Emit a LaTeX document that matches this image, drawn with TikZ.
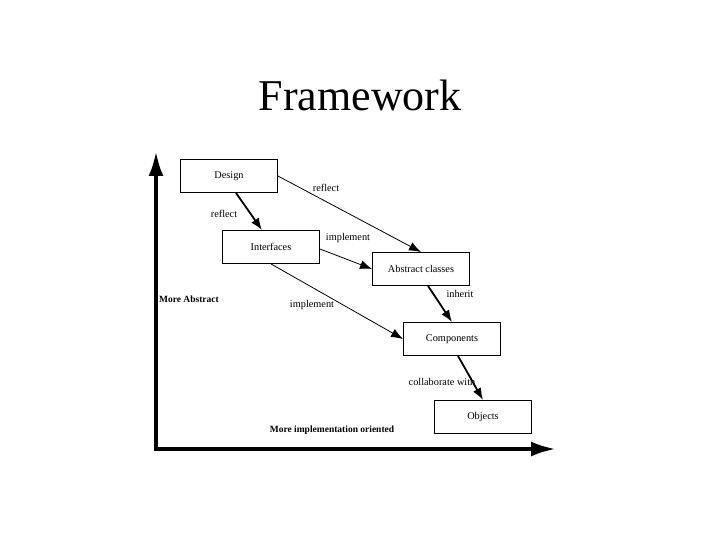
\documentclass[tikz,border=0pt]{standalone}
\usepackage{fontspec}
\setmainfont{Liberation Serif}
\usetikzlibrary{arrows.meta, positioning}

\begin{document}
\begin{tikzpicture}[
    x=1pt, y=-1pt,
    box/.style={rectangle, draw, line width=0.9pt, minimum width=97pt, minimum height=33pt, inner sep=0pt, font=\fontsize{10.3}{12}\selectfont},
    thin arrow/.style={-{Latex[length=12pt, width=9pt]}, line width=0.8pt},
    thick arrow/.style={-{Latex[length=12pt, width=9pt]}, line width=1.8pt},
    axis/.style={-{Latex[length=25pt, width=15pt]}, line width=4pt},
    label/.style={font=\fontsize{10.3}{12}\selectfont, inner sep=1pt},
    axis label/.style={font=\fontsize{9.5}{11}\selectfont\bfseries, inner sep=1pt}
]
    \useasboundingbox (0,0) rectangle (720,540);

    % Title
    \node[font=\fontsize{44}{50}\selectfont] (title) at (360,95) {Framework};

    % Axes
    \coordinate (origin) at (156,449);
    \coordinate (top) at (156,151);
    \coordinate (right) at (556,449);
    \draw[axis] ([yshift=2pt]origin) -- (top);
    \draw[axis] ([xshift=-2pt]origin) -- (right);
    \node[axis label] (abstract label) at (189,299) {More Abstract};
    \node[axis label] (impl label) at (332,430) {More implementation oriented};

    % Boxes
    \node[box] (design) at (229,176) {Design};
    \node[box] (interfaces) at (271,247) {Interfaces};
    \node[box] (abstract) at (421,269) {Abstract classes};
    \node[box] (components) at (452,339) {Components};
    \node[box] (objects) at (483,417) {Objects};

    % Arrows
    \draw[thick arrow] ([xshift=7pt]design.south) -- ([xshift=-9pt]interfaces.north);
    \draw[thin arrow] (design.east) -- (abstract.north);
    \draw[thin arrow] ([yshift=-2pt]interfaces.east) -- (abstract.west);
    \draw[thin arrow] (interfaces.south) -- (components.west);
    \draw[thick arrow] ([xshift=7pt]abstract.south) -- (components.north);
    \draw[thick arrow] ([xshift=6pt]components.south) -- (objects.north);

    % Labels
    \node[label] (l1) at (224,214) {reflect};
    \node[label] (l2) at (326,188) {reflect};
    \node[label] (l3) at (348,238) {implement};
    \node[label] (l4) at (312,305) {implement};
    \node[label] (l5) at (460,294) {inherit};
    \node[label] (l6) at (442,382) {collaborate with};

\end{tikzpicture}
\end{document}
